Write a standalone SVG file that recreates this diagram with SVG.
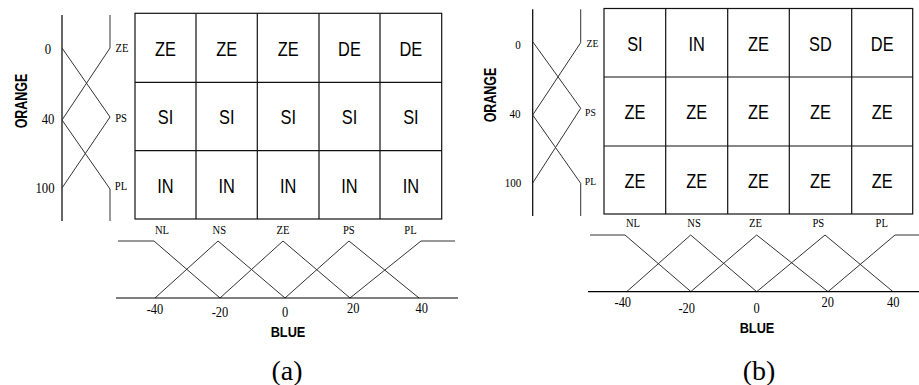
<svg xmlns="http://www.w3.org/2000/svg" width="919" height="385" viewBox="0 0 919 385">
  <style>
    .axis { stroke: #000; stroke-width: 1.2; fill: none; }
    .mf { stroke: #333; stroke-width: 1; fill: none; }
    .grid { stroke: #111; stroke-width: 1.2; fill: #fff; }
    .cell { font-family: "Liberation Sans", Arial, sans-serif; font-size: 20px; text-anchor: middle; fill: #000; }
    .term { font-family: "Liberation Serif", "Times New Roman", serif; font-size: 12px; text-anchor: middle; fill: #000; }
    .num { font-family: "Liberation Serif", "Times New Roman", serif; font-size: 15px; text-anchor: middle; fill: #000; }
    .title { font-family: "Liberation Sans", Arial, sans-serif; font-size: 16px; font-weight: bold; text-anchor: middle; fill: #000; }
    .blue { font-family: "Liberation Sans", Arial, sans-serif; font-size: 15px; font-weight: bold; text-anchor: middle; fill: #000; }
    .cap { font-family: "Liberation Serif", "Times New Roman", serif; font-size: 28px; text-anchor: middle; fill: #000; }
  </style>

  <!-- ===================== Panel (a) ===================== -->
  <g id="panel-a">
    <!-- ORANGE input sets -->
    <g id="a-orange-sets">
      <line class="axis" x1="62" y1="15" x2="62" y2="221"/>
      <polyline class="mf" points="110,15 110,48 62,120"/>
      <polyline class="mf" points="62,48 110,117 62,188"/>
      <polyline class="mf" points="62,120 110,189 110,221"/>
      <text class="num" transform="translate(48 54) scale(.85 1)">0</text>
      <text class="num" transform="translate(48 124) scale(.85 1)">40</text>
      <text class="num" transform="translate(45 192.5) scale(.85 1)">100</text>
      <text class="term" transform="translate(122 52) scale(.88 1)">ZE</text>
      <text class="term" transform="translate(121 121.5) scale(.88 1)">PS</text>
      <text class="term" transform="translate(121 190) scale(.88 1)">PL</text>
      <text class="title" transform="translate(27 101) rotate(-90) scale(.78 1)">ORANGE</text>
    </g>

    <!-- Rule table -->
    <g id="a-rule-table">
      <rect class="grid" x="135" y="13.3" width="306.7" height="205.7"/>
      <path class="grid" d="M196 13.3V219M257.3 13.3V219M319 13.3V219M380 13.3V219M135 82.3H441.7M135 150.7H441.7"/>
      <g id="a-row-ze">
        <text class="cell" transform="translate(165.5 55.5) scale(.82 1)">ZE</text>
        <text class="cell" transform="translate(226.7 55.5) scale(.82 1)">ZE</text>
        <text class="cell" transform="translate(288.2 55.5) scale(.82 1)">ZE</text>
        <text class="cell" transform="translate(349.5 55.5) scale(.82 1)">DE</text>
        <text class="cell" transform="translate(410.9 55.5) scale(.82 1)">DE</text>
      </g>
      <g id="a-row-ps">
        <text class="cell" transform="translate(165.5 124) scale(.82 1)">SI</text>
        <text class="cell" transform="translate(226.7 124) scale(.82 1)">SI</text>
        <text class="cell" transform="translate(288.2 124) scale(.82 1)">SI</text>
        <text class="cell" transform="translate(349.5 124) scale(.82 1)">SI</text>
        <text class="cell" transform="translate(410.9 124) scale(.82 1)">SI</text>
      </g>
      <g id="a-row-pl">
        <text class="cell" transform="translate(165.5 192.5) scale(.82 1)">IN</text>
        <text class="cell" transform="translate(226.7 192.5) scale(.82 1)">IN</text>
        <text class="cell" transform="translate(288.2 192.5) scale(.82 1)">IN</text>
        <text class="cell" transform="translate(349.5 192.5) scale(.82 1)">IN</text>
        <text class="cell" transform="translate(410.9 192.5) scale(.82 1)">IN</text>
      </g>
    </g>

    <!-- BLUE input sets -->
    <g id="a-blue-sets">
      <text class="term" transform="translate(162 234) scale(.88 1)">NL</text>
      <text class="term" transform="translate(219.3 234) scale(.88 1)">NS</text>
      <text class="term" transform="translate(283 234) scale(.88 1)">ZE</text>
      <text class="term" transform="translate(348.8 234) scale(.88 1)">PS</text>
      <text class="term" transform="translate(410.5 234) scale(.88 1)">PL</text>
      <polyline class="mf" points="118,241 154,241 220,298"/>
      <polyline class="mf" points="155,298 218,241 285,298"/>
      <polyline class="mf" points="220,298 283,241 350,298"/>
      <polyline class="mf" points="285,298 349,241 419,298"/>
      <polyline class="mf" points="350,298 421,241 455,241"/>
      <line class="axis" x1="116" y1="298" x2="458" y2="298"/>
      <text class="num" transform="translate(155 314) scale(.83 1)">-40</text>
      <text class="num" transform="translate(220 317) scale(.83 1)">-20</text>
      <text class="num" transform="translate(285 317) scale(.83 1)">0</text>
      <text class="num" transform="translate(353.3 312.7) scale(.83 1)">20</text>
      <text class="num" transform="translate(421.7 312.7) scale(.83 1)">40</text>
      <text class="blue" transform="translate(288 337) scale(.85 1)">BLUE</text>
    </g>

    <text class="cap" x="287" y="380">(a)</text>
  </g>

  <!-- ===================== Panel (b) ===================== -->
  <g id="panel-b">
    <!-- ORANGE input sets -->
    <g id="b-orange-sets">
      <line class="axis" x1="532.7" y1="9.3" x2="532.7" y2="216"/>
      <polyline class="mf" points="580.7,9.3 580.7,42.7 532.7,115"/>
      <polyline class="mf" points="532.7,41.7 580.7,108.3 532.7,183"/>
      <polyline class="mf" points="532.7,115 580.7,183.3 580.7,216"/>
      <text class="num" style="font-size:13px" transform="translate(518 49) scale(.85 1)">0</text>
      <text class="num" style="font-size:13px" transform="translate(515 118) scale(.85 1)">40</text>
      <text class="num" style="font-size:13px" transform="translate(513 187) scale(.85 1)">100</text>
      <text class="term" style="font-size:11px" transform="translate(592.5 46.7) scale(.88 1)">ZE</text>
      <text class="term" style="font-size:11px" transform="translate(590.5 116) scale(.88 1)">PS</text>
      <text class="term" style="font-size:11px" transform="translate(590.5 185) scale(.88 1)">PL</text>
      <text class="title" transform="translate(496 95) rotate(-90) scale(.78 1)">ORANGE</text>
    </g>

    <!-- Rule table -->
    <g id="b-rule-table">
      <rect class="grid" x="604" y="8.5" width="308.7" height="205.5"/>
      <path class="grid" d="M665.7 8.5V214M727.7 8.5V214M789.3 8.5V214M851.7 8.5V214M604 77H912.7M604 146H912.7"/>
      <g id="b-row-ze">
        <text class="cell" transform="translate(634.9 51) scale(.82 1)">SI</text>
        <text class="cell" transform="translate(696.7 51) scale(.82 1)">IN</text>
        <text class="cell" transform="translate(758.5 51) scale(.82 1)">ZE</text>
        <text class="cell" transform="translate(820.5 51) scale(.82 1)">SD</text>
        <text class="cell" transform="translate(882.2 51) scale(.82 1)">DE</text>
      </g>
      <g id="b-row-ps">
        <text class="cell" transform="translate(634.9 119.3) scale(.82 1)">ZE</text>
        <text class="cell" transform="translate(696.7 119.3) scale(.82 1)">ZE</text>
        <text class="cell" transform="translate(758.5 119.3) scale(.82 1)">ZE</text>
        <text class="cell" transform="translate(820.5 119.3) scale(.82 1)">ZE</text>
        <text class="cell" transform="translate(882.2 119.3) scale(.82 1)">ZE</text>
      </g>
      <g id="b-row-pl">
        <text class="cell" transform="translate(634.9 188) scale(.82 1)">ZE</text>
        <text class="cell" transform="translate(696.7 188) scale(.82 1)">ZE</text>
        <text class="cell" transform="translate(758.5 188) scale(.82 1)">ZE</text>
        <text class="cell" transform="translate(820.5 188) scale(.82 1)">ZE</text>
        <text class="cell" transform="translate(882.2 188) scale(.82 1)">ZE</text>
      </g>
    </g>

    <!-- BLUE input sets -->
    <g id="b-blue-sets">
      <text class="term" transform="translate(633 226.7) scale(.88 1)">NL</text>
      <text class="term" transform="translate(694 226.7) scale(.88 1)">NS</text>
      <text class="term" transform="translate(755.5 226.7) scale(.88 1)">ZE</text>
      <text class="term" transform="translate(818.3 226.7) scale(.88 1)">PS</text>
      <text class="term" transform="translate(881.7 226.7) scale(.88 1)">PL</text>
      <polyline class="mf" points="590,235 625,235 691,291.7"/>
      <polyline class="mf" points="626.7,291.7 690.7,235 756.7,291.7"/>
      <polyline class="mf" points="690.7,291.7 756.7,235 828,291.7"/>
      <polyline class="mf" points="756.7,291.7 825,235 893,291.7"/>
      <polyline class="mf" points="828,291.7 895,235 919,235"/>
      <line class="axis" x1="588" y1="291.7" x2="919" y2="291.7"/>
      <text class="num" transform="translate(622.8 307) scale(.83 1)">-40</text>
      <text class="num" transform="translate(686.7 313) scale(.83 1)">-20</text>
      <text class="num" transform="translate(756.7 312.7) scale(.83 1)">0</text>
      <text class="num" transform="translate(827.8 306.7) scale(.83 1)">20</text>
      <text class="num" transform="translate(893.3 307) scale(.83 1)">40</text>
      <text class="blue" transform="translate(757 333) scale(.85 1)">BLUE</text>
    </g>

    <text class="cap" x="759" y="380">(b)</text>
  </g>
</svg>
